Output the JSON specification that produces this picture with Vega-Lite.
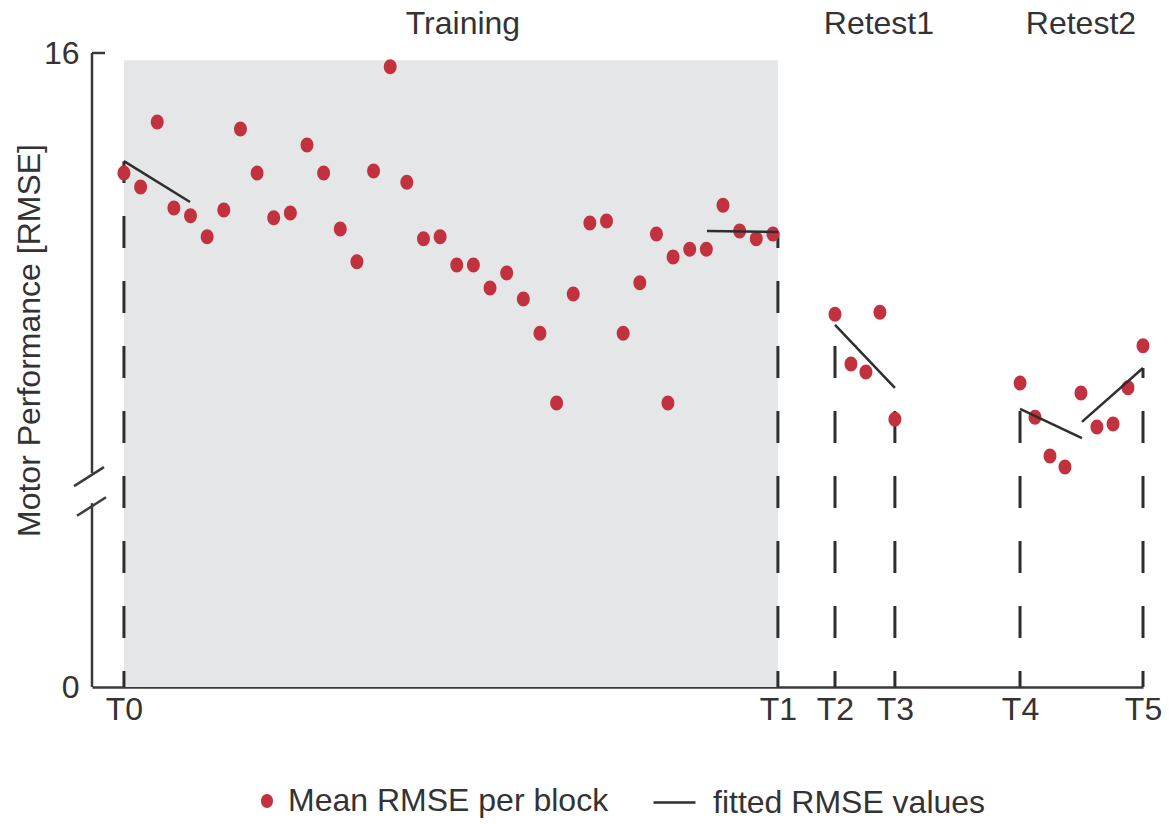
{
  "$schema": "https://vega.github.io/schema/vega-lite/v6.json",
  "width": 1051,
  "height": 634,
  "autosize": "none",
  "padding": {"left": 92, "top": 53, "right": 26, "bottom": 137},
  "background": "#ffffff",
  "config": {
    "view": {"stroke": null},
    "font": "Liberation Sans",
    "text": {"font": "Liberation Sans"}
  },
  "datasets": {
    "points": [
      {"block": 1, "rmse": 12.97, "series": "Mean RMSE per block"},
      {"block": 2, "rmse": 12.62, "series": "Mean RMSE per block"},
      {"block": 3, "rmse": 14.26, "series": "Mean RMSE per block"},
      {"block": 4, "rmse": 12.09, "series": "Mean RMSE per block"},
      {"block": 5, "rmse": 11.89, "series": "Mean RMSE per block"},
      {"block": 6, "rmse": 11.36, "series": "Mean RMSE per block"},
      {"block": 7, "rmse": 12.04, "series": "Mean RMSE per block"},
      {"block": 8, "rmse": 14.08, "series": "Mean RMSE per block"},
      {"block": 9, "rmse": 12.97, "series": "Mean RMSE per block"},
      {"block": 10, "rmse": 11.84, "series": "Mean RMSE per block"},
      {"block": 11, "rmse": 11.96, "series": "Mean RMSE per block"},
      {"block": 12, "rmse": 13.68, "series": "Mean RMSE per block"},
      {"block": 13, "rmse": 12.97, "series": "Mean RMSE per block"},
      {"block": 14, "rmse": 11.56, "series": "Mean RMSE per block"},
      {"block": 15, "rmse": 10.73, "series": "Mean RMSE per block"},
      {"block": 16, "rmse": 13.02, "series": "Mean RMSE per block"},
      {"block": 17, "rmse": 15.65, "series": "Mean RMSE per block"},
      {"block": 18, "rmse": 12.74, "series": "Mean RMSE per block"},
      {"block": 19, "rmse": 11.31, "series": "Mean RMSE per block"},
      {"block": 20, "rmse": 11.36, "series": "Mean RMSE per block"},
      {"block": 21, "rmse": 10.65, "series": "Mean RMSE per block"},
      {"block": 22, "rmse": 10.65, "series": "Mean RMSE per block"},
      {"block": 23, "rmse": 10.07, "series": "Mean RMSE per block"},
      {"block": 24, "rmse": 10.45, "series": "Mean RMSE per block"},
      {"block": 25, "rmse": 9.79, "series": "Mean RMSE per block"},
      {"block": 26, "rmse": 8.93, "series": "Mean RMSE per block"},
      {"block": 27, "rmse": 7.17, "series": "Mean RMSE per block"},
      {"block": 28, "rmse": 9.92, "series": "Mean RMSE per block"},
      {"block": 29, "rmse": 11.71, "series": "Mean RMSE per block"},
      {"block": 30, "rmse": 11.76, "series": "Mean RMSE per block"},
      {"block": 31, "rmse": 8.93, "series": "Mean RMSE per block"},
      {"block": 32, "rmse": 10.2, "series": "Mean RMSE per block"},
      {"block": 33, "rmse": 11.43, "series": "Mean RMSE per block"},
      {"block": 33.69, "rmse": 7.17, "series": "Mean RMSE per block"},
      {"block": 34, "rmse": 10.85, "series": "Mean RMSE per block"},
      {"block": 35, "rmse": 11.05, "series": "Mean RMSE per block"},
      {"block": 36, "rmse": 11.05, "series": "Mean RMSE per block"},
      {"block": 37, "rmse": 12.16, "series": "Mean RMSE per block"},
      {"block": 38, "rmse": 11.51, "series": "Mean RMSE per block"},
      {"block": 39, "rmse": 11.31, "series": "Mean RMSE per block"},
      {"block": 40, "rmse": 11.43, "series": "Mean RMSE per block"},
      {"block": 43.73, "rmse": 9.41, "series": "Mean RMSE per block"},
      {"block": 44.69, "rmse": 8.15, "series": "Mean RMSE per block"},
      {"block": 45.59, "rmse": 7.95, "series": "Mean RMSE per block"},
      {"block": 46.43, "rmse": 9.46, "series": "Mean RMSE per block"},
      {"block": 47.33, "rmse": 6.76, "series": "Mean RMSE per block"},
      {"block": 54.85, "rmse": 7.67, "series": "Mean RMSE per block"},
      {"block": 55.75, "rmse": 6.81, "series": "Mean RMSE per block"},
      {"block": 56.65, "rmse": 5.83, "series": "Mean RMSE per block"},
      {"block": 57.55, "rmse": 5.55, "series": "Mean RMSE per block"},
      {"block": 58.51, "rmse": 7.42, "series": "Mean RMSE per block"},
      {"block": 59.47, "rmse": 6.56, "series": "Mean RMSE per block"},
      {"block": 60.44, "rmse": 6.64, "series": "Mean RMSE per block"},
      {"block": 61.34, "rmse": 7.55, "series": "Mean RMSE per block"},
      {"block": 62.24, "rmse": 8.61, "series": "Mean RMSE per block"}
    ],
    "fits": [
      {"block": 1, "rmse": 13.27, "block_end": 4.97, "rmse_end": 12.24, "series": "fitted RMSE values"},
      {"block": 36.04, "rmse": 11.51, "block_end": 40.3, "rmse_end": 11.48, "series": "fitted RMSE values"},
      {"block": 43.73, "rmse": 9.14, "block_end": 47.33, "rmse_end": 7.55, "series": "fitted RMSE values"},
      {"block": 54.85, "rmse": 7.02, "block_end": 58.57, "rmse_end": 6.28, "series": "fitted RMSE values"},
      {"block": 58.57, "rmse": 6.69, "block_end": 62.24, "rmse_end": 8.05, "series": "fitted RMSE values"}
    ],
    "markers": [
      {"label": "T0", "block": 1, "base": 0, "top": 13.27},
      {"label": "T1", "block": 40.3, "base": 0, "top": 11.48},
      {"label": "T2", "block": 43.73, "base": 0, "top": 9.14},
      {"label": "T3", "block": 47.33, "base": 0, "top": 7.55},
      {"label": "T4", "block": 54.85, "base": 0, "top": 7.02},
      {"label": "T5", "block": 62.24, "base": 0, "top": 8.05}
    ],
    "sections": [
      {"label": "Training", "block": 21.37},
      {"label": "Retest1", "block": 46.37},
      {"label": "Retest2", "block": 58.51}
    ],
    "shade": [
      {"start": 1, "end": 40.3, "base": 0, "top": 15.82}
    ],
    "axisparts": [
      {"x": -0.92, "y": 0, "x2": -0.92, "y2": 4.64},
      {"x": -0.92, "y": 5.4, "x2": -0.92, "y2": 16},
      {"x": -0.92, "y": 16, "x2": -0.14, "y2": 16},
      {"x": -2.0, "y": 5.07, "x2": -0.2, "y2": 5.55},
      {"x": -1.82, "y": 4.32, "x2": -0.08, "y2": 4.79}
    ]
  },
  "layer": [
    {
      "data": {"name": "shade"},
      "mark": {"type": "rect", "color": "#e5e6e8"},
      "encoding": {
        "x": {"field": "start", "type": "quantitative",
              "scale": {"domain": [-0.92, 62.24], "nice": false, "zero": false},
              "axis": {
                "values": [1, 40.3, 43.73, 47.33, 54.85, 62.24],
                "labelExpr": "datum.value == 1 ? 'T0' : datum.value == 40.3 ? 'T1' : datum.value == 43.73 ? 'T2' : datum.value == 47.33 ? 'T3' : datum.value == 54.85 ? 'T4' : 'T5'",
                "title": null, "grid": false, "ticks": false,
                "domain": true, "domainColor": "#3a3a3a", "domainWidth": 2.5,
                "labelFontSize": 32, "labelColor": "#333333", "labelPadding": 7,
                "labelFont": "Liberation Sans", "labelFlush": false, "labelOverlap": false
              }},
        "x2": {"field": "end"},
        "y": {"field": "top", "type": "quantitative",
              "scale": {"domain": [0, 16], "nice": false, "zero": true},
              "axis": {
                "values": [0, 16], "grid": false, "ticks": false, "domain": false,
                "labelFontSize": 32, "labelColor": "#333333", "labelPadding": 13,
                "labelFont": "Liberation Sans", "labelFlush": false,
                "title": "Motor Performance [RMSE]", "titleFontSize": 32,
                "titleFont": "Liberation Sans", "titleFontWeight": "normal",
                "titleColor": "#333333", "titleX": -53, "titleY": 287,
                "titleBaseline": "alphabetic", "titleAlign": "center", "titleAngle": -90
              }},
        "y2": {"field": "base"}
      }
    },
    {
      "data": {"name": "markers"},
      "mark": {"type": "rule", "color": "#2e2e2e", "strokeWidth": 3, "strokeDash": [32, 33], "strokeDashOffset": 16},
      "encoding": {
        "x": {"field": "block", "type": "quantitative"},
        "y": {"field": "base", "type": "quantitative"},
        "y2": {"field": "top"}
      }
    },
    {
      "data": {"name": "points"},
      "mark": {"type": "point", "filled": true, "opacity": 1, "size": 225,
               "shape": "M -0.86 0 A 0.86 1 0 1 1 0.86 0 A 0.86 1 0 1 1 -0.86 0 Z"},
      "encoding": {
        "x": {"field": "block", "type": "quantitative"},
        "y": {"field": "rmse", "type": "quantitative"},
        "fill": {"field": "series", "type": "nominal",
                 "scale": {"domain": ["Mean RMSE per block"], "range": ["#c1323e"]},
                 "legend": {
                   "orient": "none", "legendX": 159, "legendY": 732, "title": null,
                   "padding": 0, "symbolType": "M -0.86 0 A 0.86 1 0 1 1 0.86 0 A 0.86 1 0 1 1 -0.86 0 Z",
                   "symbolSize": 196, "symbolStrokeWidth": 0, "symbolOpacity": 1,
                   "labelFontSize": 32, "labelColor": "#333333", "labelFont": "Liberation Sans",
                   "labelOffset": 5, "labelLimit": 600
                 }}
      }
    },
    {
      "data": {"name": "fits"},
      "mark": {"type": "rule", "strokeWidth": 2.5},
      "encoding": {
        "x": {"field": "block", "type": "quantitative"},
        "y": {"field": "rmse", "type": "quantitative"},
        "x2": {"field": "block_end"},
        "y2": {"field": "rmse_end"},
        "stroke": {"field": "series", "type": "nominal",
                   "scale": {"domain": ["fitted RMSE values"], "range": ["#2e2e2e"]},
                   "legend": {
                     "orient": "none", "legendX": 560, "legendY": 727, "title": null,
                     "padding": 0, "symbolType": "stroke", "symbolSize": 1764,
                     "symbolStrokeWidth": 2.5,
                     "labelFontSize": 32, "labelColor": "#333333", "labelFont": "Liberation Sans",
                     "labelOffset": 16, "labelLimit": 600
                   }}
      }
    },
    {
      "data": {"name": "axisparts"},
      "mark": {"type": "rule", "color": "#3a3a3a", "strokeWidth": 2.5},
      "encoding": {
        "x": {"field": "x", "type": "quantitative"},
        "y": {"field": "y", "type": "quantitative"},
        "x2": {"field": "x2"},
        "y2": {"field": "y2"}
      }
    },
    {
      "data": {"name": "sections"},
      "mark": {"type": "text", "fontSize": 32, "color": "#333333", "baseline": "alphabetic", "align": "center", "font": "Liberation Sans"},
      "encoding": {
        "x": {"field": "block", "type": "quantitative"},
        "y": {"datum": 16.48, "type": "quantitative"},
        "text": {"field": "label"}
      }
    }
  ]
}
